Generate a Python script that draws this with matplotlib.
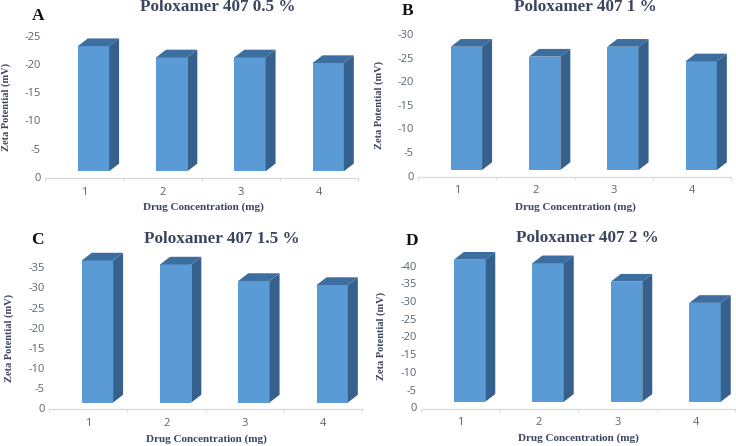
import matplotlib
matplotlib.use("Agg")
import matplotlib.pyplot as plt
from matplotlib.patches import Polygon

W, H = 736, 446
plt.rcParams['axes.unicode_minus'] = False

categories = ["1", "2", "3", "4"]
values_a = [-23.2, -21.2, -21.2, -20.2]
values_b = [-27.3, -25.2, -27.3, -24.2]
values_c = [-36.7, -35.7, -31.6, -30.6]
values_d = [-41.7, -40.7, -35.5, -29.5]
ticks_a = [0, -5, -10, -15, -20, -25]
ticks_b = [0, -5, -10, -15, -20, -25, -30]
ticks_c = [0, -5, -10, -15, -20, -25, -30, -35]
ticks_d = [0, -5, -10, -15, -20, -25, -30, -35, -40]
titles = ["Poloxamer 407 0.5 %", "Poloxamer 407 1 %", "Poloxamer 407 1.5 %", "Poloxamer 407 2 %"]
letters = ["A", "B", "C", "D"]
xlabel_text = "Drug Concentration (mg)"
ylabel_text = "Zeta Potential (mV)"

FRONT, SIDE, TOP = "#5B9BD5", "#35618C", "#3C6E9F"
TXT, TICK, AXIS = "#3B4560", "#5A6470", "#D9D9D9"
SERIF = "Liberation Serif"

# pixel layout: left, right, y of zero, y of top tick
boxes = [(45, 358, 176.8, 36.0), (418, 731, 175.5, 34.0), (49, 362, 408.0, 267.3), (421, 735, 407.3, 265.7)]
# pixel text anchors: title xy, letter xy, ylabel xy, xlabel xy
title_xy = [(218, 7), (585, 7), (222, 239), (587, 238)]
letter_xy = [(38, 16), (408, 11), (37, 240), (412, 241)]
ylab_xy = [(6, 107), (379, 105), (9, 338), (381, 336)]
xlab_xy = [(203, 207), (575, 207), (206, 439), (578, 438)]
all_values = [values_a, values_b, values_c, values_d]
all_ticks = [ticks_a, ticks_b, ticks_c, ticks_d]

BAR_W, SHIFT_PX, DX_PX, DY_PX, BASE_PX = 0.4, 9.3, 10.0, 7.7, 5.5

fig = plt.figure(figsize=(W / 100, H / 100), dpi=100, facecolor="white")


def ftext(xy, s, **kw):
    fig.text(xy[0] / W, 1 - xy[1] / H, s, ha="center", va="center", family=SERIF, **kw)


for i in range(4):
    l, r, y0, yt = boxes[i]
    ax = fig.add_axes([l / W, 1 - y0 / H, (r - l) / W, (y0 - yt) / H])
    top = all_ticks[i][-1]
    ax.set_xlim(0, 4)
    ax.set_ylim(0, top)
    px_x = (r - l) / 4
    px_y = (y0 - yt) / abs(top)
    shift, dx = SHIFT_PX / px_x, DX_PX / px_x
    dy, base = DY_PX / px_y, BASE_PX / px_y
    centers = [k + 0.5 for k in range(len(categories))]
    for c, v in zip(centers, all_values[i]):
        x0 = c + shift - BAR_W / 2
        x1 = x0 + BAR_W
        ax.bar(x0, v + base, width=BAR_W, bottom=-base, align="edge", color=FRONT, zorder=3, clip_on=False)
        ax.add_patch(Polygon([(x1, -base), (x1 + dx, -base - dy), (x1 + dx, v - dy), (x1, v)],
                             closed=True, fc=SIDE, ec="none", clip_on=False, zorder=3))
        ax.add_patch(Polygon([(x0, v), (x0 + dx, v - dy), (x1 + dx, v - dy), (x1, v)],
                             closed=True, fc=TOP, ec="none", clip_on=False, zorder=3))
    for s in ("top", "left", "right"):
        ax.spines[s].set_visible(False)
    ax.spines["bottom"].set_position(("outward", 1.0))
    ax.spines["bottom"].set_color(AXIS)
    ax.spines["bottom"].set_linewidth(0.9)
    ax.set_xticks(centers)
    ax.set_xticklabels(categories)
    ax.set_xticks(range(5), minor=True)
    ax.tick_params(axis="x", which="major", length=0, pad=6, labelsize=8, labelcolor=TICK)
    ax.tick_params(axis="x", which="minor", length=2.5, width=0.7, color=AXIS)
    ax.set_yticks(all_ticks[i])
    ax.set_yticklabels([str(t) for t in all_ticks[i]])
    ax.tick_params(axis="y", length=0, pad=3, labelsize=8, labelcolor=TICK)
    for t in ax.get_xticklabels() + ax.get_yticklabels():
        t.set_family("Open Sans")
    ftext(title_xy[i], titles[i], fontsize=12.3, fontweight="bold", color=TXT)
    ftext(letter_xy[i], letters[i], fontsize=12.5, fontweight="bold", color="#111111")
    ftext(ylab_xy[i], ylabel_text, fontsize=7.5, fontweight="bold", color=TXT, rotation=90)
    ftext(xlab_xy[i], xlabel_text, fontsize=8, fontweight="bold", color=TXT)

fig.savefig("out.png", dpi=100)
